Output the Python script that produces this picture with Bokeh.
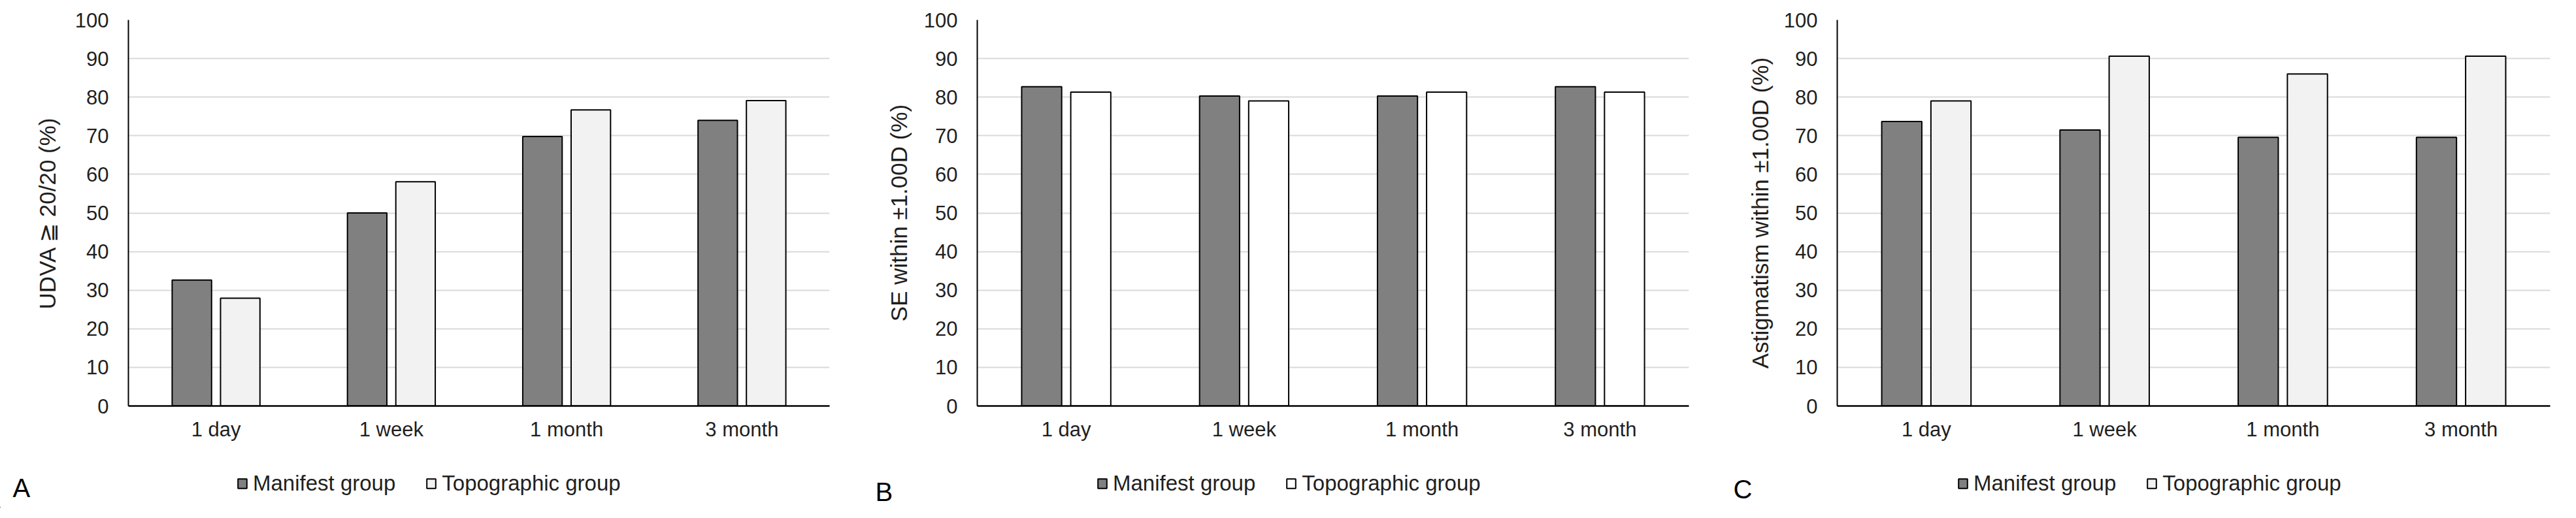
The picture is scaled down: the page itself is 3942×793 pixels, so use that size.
from bokeh.plotting import figure
from bokeh.models import (ColumnDataSource, FactorRange, FixedTicker, Legend,
                          LegendItem, Label, Range1d)
from bokeh.transform import dodge
from bokeh.layouts import row, column
from bokeh.embed import file_html
from bokeh.resources import INLINE

# ---------------- data ----------------
CATEGORIES = ["1 day", "1 week", "1 month", "3 month"]
Y_TICKS = [0, 10, 20, 30, 40, 50, 60, 70, 80, 90, 100]

UDVA_MANIFEST = [32.6, 50.0, 69.8, 74.0]
UDVA_TOPO = [27.9, 58.1, 76.7, 79.1]

SE_MANIFEST = [82.7, 80.3, 80.3, 82.7]
SE_TOPO = [81.3, 79.0, 81.3, 81.3]

AST_MANIFEST = [73.7, 71.5, 69.6, 69.6]
AST_TOPO = [79.0, 90.6, 86.0, 90.6]

SERIES_NAMES = ["Manifest group", "Topographic group"]
PANEL_LETTERS = ["A", "B", "C"]
Y_TITLES = ["UDVA \u2267 20/20 (%)", "SE within \u00b11.00D (%)",
            "Astigmatism within \u00b11.00D (%)"]

FONT = "Liberation Sans"
TXT = "#1f1f1f"
TOTAL_W = 3926
MAIN_H = 681
FOOT_H = 96


def make_panel(manifest, topo, ytitle, topo_color, width, bl, br,
               title_standoff):
    src = ColumnDataSource(dict(cat=CATEGORIES, manifest=manifest, topo=topo))
    p = figure(x_range=FactorRange(*CATEGORIES), y_range=(0, 100),
               width=width, height=MAIN_H, output_backend="svg",
               toolbar_location=None, tools="",
               min_border_left=bl, min_border_right=br,
               min_border_top=30, min_border_bottom=60)
    p.outline_line_color = None
    p.background_fill_color = "white"
    p.border_fill_color = "white"

    p.vbar(x=dodge("cat", -0.138, range=p.x_range), top="manifest",
           width=0.225, source=src, fill_color="#808080",
           line_color="black", line_width=2)
    p.vbar(x=dodge("cat", 0.138, range=p.x_range), top="topo",
           width=0.225, source=src, fill_color=topo_color,
           line_color="black", line_width=2)

    p.xgrid.grid_line_color = None
    p.ygrid.grid_line_color = "#D9D9D9"
    p.ygrid.grid_line_width = 2
    p.yaxis.ticker = FixedTicker(ticks=Y_TICKS)

    for ax in (p.xaxis[0], p.yaxis[0]):
        ax.major_tick_line_color = None
        ax.minor_tick_line_color = None
        ax.major_tick_out = 0
        ax.major_tick_in = 0
        ax.axis_line_color = "black"
        ax.major_label_text_font = FONT
        ax.major_label_text_color = TXT
        ax.major_label_text_font_size = "31px"
    p.xaxis.axis_line_width = 2.5
    p.yaxis.axis_line_width = 2
    p.xaxis.major_label_standoff = 18
    p.yaxis.major_label_standoff = 30
    p.yaxis.axis_label = ytitle
    p.yaxis.axis_label_text_font = FONT
    p.yaxis.axis_label_text_font_style = "normal"
    p.yaxis.axis_label_text_font_size = "35px"
    p.yaxis.axis_label_text_color = TXT
    p.yaxis.axis_label_standoff = title_standoff
    return p


pa = make_panel(UDVA_MANIFEST, UDVA_TOPO, Y_TITLES[0], "#F2F2F2",
                1310, 196, 41, 20)
pb = make_panel(SE_MANIFEST, SE_TOPO, Y_TITLES[1], "white",
                1310, 185, 36, 16)
pc = make_panel(AST_MANIFEST, AST_TOPO, Y_TITLES[2], "#F2F2F2",
                1306, 191, 24, 14)

# footer spanning the whole width: legends and panel letters
f = figure(x_range=Range1d(0, TOTAL_W), y_range=Range1d(0, FOOT_H),
           width=TOTAL_W, height=FOOT_H, output_backend="svg",
           toolbar_location=None, tools="",
           x_axis_location=None, y_axis_location=None,
           min_border_left=0, min_border_right=0,
           min_border_top=0, min_border_bottom=0)
f.outline_line_color = None
f.grid.visible = False

# legend swatch proxies (kept outside the visible footer range)
proxy = ColumnDataSource(dict(x=[-50], top=[-50]))

for topo_color, lx, letter, letter_x, letter_y in [
        ("#F2F2F2", 362, PANEL_LETTERS[0], 19, 31),
        ("white", 1678, PANEL_LETTERS[1], 1339, 25),
        ("#F2F2F2", 2995, PANEL_LETTERS[2], 2652, 29)]:
    k1 = f.vbar(x="x", top="top", width=1, source=proxy,
                fill_color="#808080", line_color="black", line_width=2)
    k2 = f.vbar(x="x", top="top", width=1, source=proxy,
                fill_color=topo_color, line_color="black", line_width=2)
    legend = Legend(items=[LegendItem(label=SERIES_NAMES[0], renderers=[k1]),
                           LegendItem(label=SERIES_NAMES[1], renderers=[k2])],
                    location=(lx, 18), orientation="horizontal",
                    border_line_color=None, background_fill_alpha=0,
                    padding=0, margin=0, spacing=46, label_standoff=8,
                    glyph_width=17, glyph_height=18,
                    label_text_font=FONT, label_text_font_size="33px",
                    label_text_color=TXT)
    f.add_layout(legend, "center")
    f.add_layout(Label(x=letter_x, y=letter_y, text=letter,
                       text_font=FONT, text_font_size="40px",
                       text_color="black", text_align="left",
                       text_baseline="middle"))

layout = column(row(pa, pb, pc, spacing=0), f, spacing=0)
open("out.html", "w").write(file_html(layout, INLINE))
